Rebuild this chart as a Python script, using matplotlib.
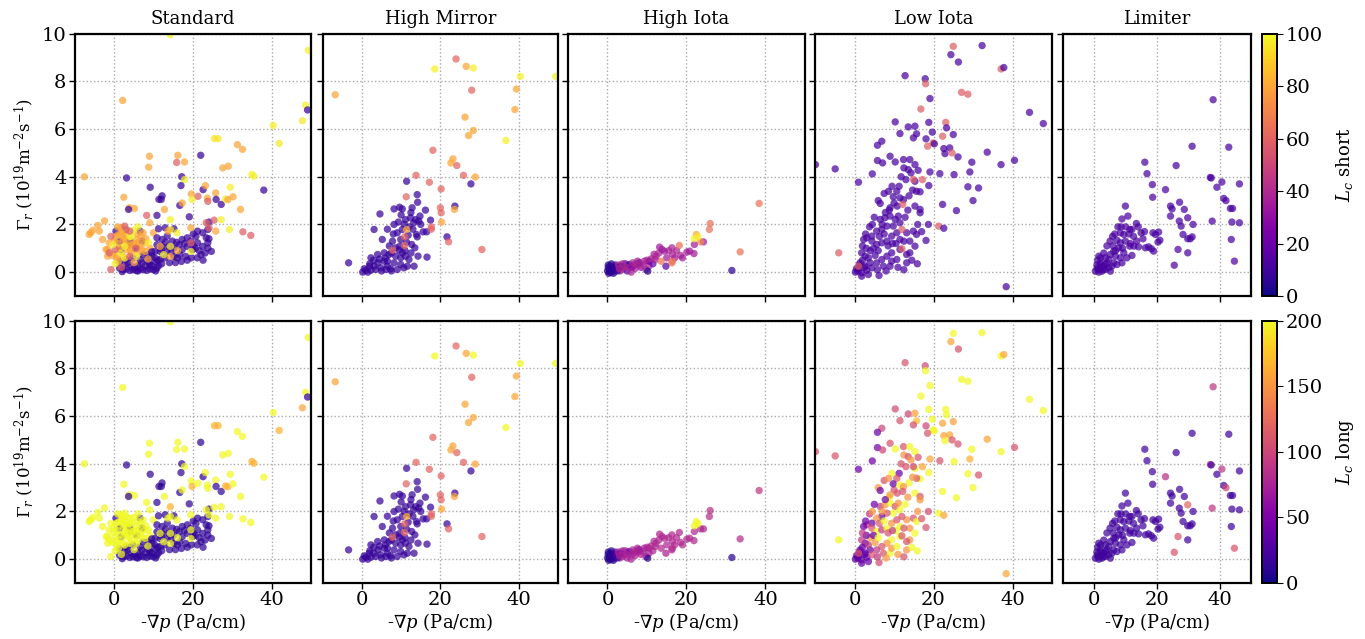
import matplotlib
matplotlib.use("Agg")
import matplotlib.pyplot as plt
import numpy as np

plt.rcParams['font.family'] = 'serif'
plt.rcParams['font.serif'] = ['DejaVu Serif']
plt.rcParams['mathtext.fontset'] = 'dejavuserif'

titles = ['Standard', 'High Mirror', 'High Iota', 'Low Iota', 'Limiter']
cbar_labels = [r'$L_c$ short', r'$L_c$ long']
cbar_max = [100, 200]
cbar_ticks = [[0, 20, 40, 60, 80, 100], [0, 50, 100, 150, 200]]
y_ticks = [0, 2, 4, 6, 8, 10]
x_ticks = [0, 20, 40]

# rows: (-grad p, Gamma_r, Lc short, Lc long)
standard = [
    # bottom purple band
    (1.3, 0.17, 8, 12), (2.2, 0.10, 8, 12), (3.0, 0.13, 8, 12), (3.9, 0.07, 8, 12),
    (4.7, 0.10, 8, 12), (5.6, 0.06, 8, 12), (6.5, 0.13, 8, 12), (7.3, 0.10, 8, 12),
    (8.2, 0.07, 8, 12), (9.0, 0.13, 8, 12), (9.9, 0.10, 8, 12), (10.8, 0.17, 8, 12),
    (2.6, 0.31, 8, 12), (4.3, 0.27, 8, 12), (6.0, 0.27, 8, 12), (7.8, 0.27, 8, 12),
    (9.5, 0.27, 8, 12), (11.2, 0.27, 8, 12), (12.0, 0.35, 8, 12), (3.5, 0.40, 8, 12),
    (5.2, 0.20, 8, 12), (7.0, 0.38, 8, 12), (8.8, 0.40, 8, 12), (10.5, 0.42, 8, 12),
    (11.8, 0.55, 8, 12), (1.7, 0.94, 8, 12), (3.9, 1.15, 8, 12), (5.6, 1.01, 8, 12),
    (7.3, 0.73, 8, 12), (8.6, 0.73, 8, 12), (3.0, 0.52, 8, 12), (4.7, 0.59, 8, 12),
    (6.5, 0.52, 8, 12), (8.2, 0.52, 8, 12), (9.5, 0.66, 8, 12), (10.3, 0.59, 8, 12),
    (1.3, 0.45, 8, 12), (4.0, 1.30, 8, 12), (7.0, 1.30, 8, 12), (0.4, 1.72, 8, 12),
    (1.3, 1.30, 8, 12), (6.5, 1.72, 8, 12), (9.0, 0.30, 8, 12), (10.5, 0.05, 8, 12),
    (6.0, 0.05, 8, 12), (2.0, 0.02, 8, 12),
    # main mixed cluster
    (0.4, 1.50, 80, 200), (2.2, 1.37, 80, 200), (3.0, 1.58, 80, 200), (4.7, 1.15, 80, 200),
    (1.3, 1.01, 80, 200), (3.0, 0.94, 80, 200), (5.6, 1.37, 80, 200), (6.5, 1.08, 80, 200),
    (7.8, 1.23, 80, 200), (4.3, 0.80, 80, 200), (2.2, 0.66, 80, 200), (0.4, 0.73, 80, 200),
    (6.0, 0.80, 80, 200), (7.8, 0.87, 80, 200), (9.0, 1.01, 80, 200), (3.4, 1.30, 80, 200),
    (1.7, 1.86, 80, 200), (-1.7, 0.94, 80, 200), (1.0, 0.45, 80, 200), (5.0, 0.40, 80, 200),
    (2.8, 1.15, 80, 200), (6.8, 1.50, 80, 200), (0.9, 1.20, 80, 200), (8.5, 0.55, 80, 200),
    (0.8, 1.90, 80, 200), (2.0, 1.70, 80, 200), (4.0, 0.95, 80, 200), (5.0, 1.20, 80, 200),
    (6.2, 1.25, 80, 200), (7.0, 0.95, 80, 200), (1.0, 1.55, 80, 200), (2.5, 1.45, 80, 200),
    (3.5, 1.10, 80, 200), (0.0, 1.30, 80, 200), (-0.5, 0.70, 80, 200), (0.6, 0.60, 80, 200),
    (8.0, 1.40, 80, 200), (5.8, 1.60, 80, 200),
    (2.6, 1.08, 98, 200), (3.9, 1.50, 98, 200), (5.6, 0.66, 98, 200), (2.6, 0.59, 98, 200),
    (8.6, 1.23, 98, 200), (0.2, 0.35, 98, 200), (6.0, 1.90, 98, 200), (1.5, 0.80, 98, 200),
    (4.9, 1.75, 98, 200), (4.3, 1.50, 98, 200),
    (3.9, 0.66, 58, 200), (3.0, 1.79, 58, 200), (0.2, 0.95, 58, 200), (5.4, 1.00, 58, 200),
    (1.8, 0.20, 58, 200), (2.6, 1.93, 58, 200), (3.9, 1.72, 58, 200),
    (1.7, 1.65, 80, 200), (7.3, 1.65, 80, 200), (9.9, 1.65, 80, 200),
    # left side
    (-6.4, 1.58, 80, 200), (-6.0, 1.65, 80, 200), (-5.5, 1.75, 80, 200), (-4.2, 1.96, 80, 200),
    (-2.5, 2.15, 80, 200), (-3.8, 1.72, 80, 200), (-3.0, 1.37, 80, 200), (-2.1, 0.95, 80, 200),
    (-1.7, 0.67, 80, 200), (-1.3, 0.81, 58, 200), (-0.9, 0.11, 58, 200), (-0.9, 1.50, 58, 200),
    (-1.3, 1.23, 80, 200), (-0.4, 1.15, 98, 200),
    # right purple cluster
    (10.8, 1.44, 8, 12), (12.1, 1.37, 8, 12), (13.4, 1.51, 8, 12), (14.7, 1.30, 8, 12),
    (10.8, 1.15, 8, 12), (12.1, 1.08, 8, 12), (13.8, 1.08, 8, 12), (15.1, 1.01, 8, 12),
    (16.4, 1.15, 8, 12), (17.2, 0.94, 8, 12), (18.5, 1.08, 8, 12), (19.8, 0.94, 8, 12),
    (21.1, 1.23, 8, 12), (22.4, 1.08, 8, 12), (23.7, 1.01, 8, 12), (24.6, 0.87, 8, 12),
    (13.4, 0.87, 8, 12), (11.6, 0.87, 8, 12), (10.3, 0.87, 8, 12), (17.2, 1.37, 8, 12),
    (18.5, 1.44, 8, 12), (19.4, 1.30, 8, 12), (18.1, 0.66, 8, 12), (16.6, 0.73, 8, 12),
    (15.1, 0.66, 8, 12), (22.0, 0.73, 8, 12), (17.0, 0.45, 8, 12), (20.5, 1.00, 8, 12),
    (21.5, 0.90, 8, 12), (11.2, 1.82, 8, 12), (12.9, 1.86, 8, 12), (15.1, 1.82, 8, 12),
    (21.1, 1.72, 8, 12), (20.7, 1.50, 8, 12), (22.4, 1.65, 8, 12), (23.3, 1.44, 8, 12),
    (23.7, 1.23, 8, 12), (23.7, 1.79, 8, 12), (24.0, 2.10, 8, 12),
    (11.0, 0.50, 8, 12), (12.8, 0.60, 8, 12), (14.0, 0.40, 8, 12), (15.5, 0.40, 8, 12),
    (16.0, 0.60, 8, 12), (18.5, 0.50, 8, 12), (19.5, 0.60, 8, 12), (21.0, 0.60, 8, 12),
    (22.5, 0.50, 8, 12), (23.0, 0.80, 8, 12), (13.0, 1.25, 8, 12), (15.8, 1.25, 8, 12),
    (17.8, 1.20, 8, 12), (20.0, 1.10, 8, 12), (12.0, 0.95, 8, 12), (14.5, 0.85, 8, 12),
    (9.5, 0.85, 8, 12), (24.0, 1.40, 8, 12), (20.0, 1.60, 8, 12),
    (14.2, 1.08, 98, 200), (12.5, 0.73, 98, 200), (14.2, 0.66, 80, 200), (11.6, 1.08, 80, 200),
    (19.4, 0.87, 98, 200), (19.4, 1.23, 58, 200), (16.0, 0.90, 80, 200), (14.2, 1.79, 98, 200),
    (15.9, 1.65, 98, 200), (13.6, 1.72, 80, 200), (19.4, 1.86, 80, 200),
    # upper scatter
    (8.2, 2.38, 58, 200), (10.8, 2.38, 8, 12), (16.6, 2.80, 8, 12), (19.0, 2.32, 8, 12),
    (12.7, 2.63, 80, 200), (14.2, 2.20, 98, 165), (9.0, 2.07, 80, 200),
    (-7.6, 4.00, 80, 200), (2.1, 7.20, 80, 200), (14.2, 9.96, 98, 200), (49.2, 9.30, 98, 200),
    (48.5, 7.00, 98, 200), (49.0, 6.80, 8, 12), (47.7, 6.35, 96, 160), (40.3, 6.15, 98, 200),
    (41.8, 5.40, 96, 165), (25.4, 5.60, 95, 165), (26.3, 5.60, 95, 165), (31.2, 5.35, 80, 200),
    (32.5, 5.15, 80, 200), (8.9, 4.86, 80, 200), (8.7, 4.40, 80, 200), (16.1, 4.90, 80, 200),
    (15.8, 4.60, 58, 200), (17.8, 4.62, 80, 200), (21.9, 4.90, 8, 12), (3.1, 3.95, 8, 12),
    (17.1, 4.00, 8, 12), (17.8, 3.88, 98, 200), (9.1, 3.56, 8, 12), (2.4, 3.14, 80, 200),
    (12.1, 3.20, 8, 12), (11.9, 3.05, 8, 12), (11.3, 3.05, 8, 12), (3.8, 2.70, 80, 200),
    (5.1, 2.67, 80, 200), (3.6, 2.63, 8, 12), (16.9, 3.63, 8, 12), (17.2, 2.90, 80, 200),
    (19.5, 3.28, 80, 200), (19.7, 3.05, 98, 165), (21.2, 3.18, 58, 200), (22.5, 3.46, 8, 12),
    (23.1, 3.63, 80, 200), (23.6, 3.10, 80, 200), (23.7, 2.97, 58, 200), (25.7, 3.32, 80, 200),
    (25.8, 3.05, 8, 12), (27.1, 2.84, 8, 12), (27.5, 4.37, 80, 200), (28.9, 4.44, 80, 200),
    (29.4, 3.56, 98, 200), (28.2, 3.07, 98, 165), (28.8, 3.04, 80, 165), (30.1, 3.16, 80, 200),
    (34.9, 4.10, 98, 165), (35.4, 4.02, 98, 165), (37.9, 3.44, 8, 200), (32.0, 2.63, 80, 200),
    (25.7, 1.72, 80, 200), (29.2, 1.79, 98, 200), (23.3, 2.07, 58, 200), (24.0, 1.86, 58, 200),
    (25.3, 2.18, 58, 200), (32.6, 1.69, 58, 200), (34.6, 1.54, 58, 200), (27.1, 2.20, 98, 200),
]

high_mirror = [
    (8.2, 2.65, 8, 15), (9.6, 2.72, 8, 15), (10.3, 2.65, 8, 15), (12.8, 2.70, 8, 15),
    (14.2, 2.93, 8, 15), (16.2, 2.60, 8, 15), (8.2, 2.00, 8, 15), (9.3, 2.10, 8, 15),
    (11.1, 2.20, 8, 15), (12.4, 2.28, 8, 15), (13.7, 2.20, 8, 15), (14.8, 2.35, 8, 15),
    (14.5, 2.14, 8, 15), (13.2, 2.07, 8, 15), (12.0, 1.90, 8, 15), (9.0, 1.65, 8, 15),
    (10.3, 1.79, 8, 15), (9.9, 1.37, 8, 15), (13.9, 1.58, 8, 15), (14.1, 1.48, 8, 15),
    (15.6, 1.69, 8, 15), (16.5, 1.69, 8, 15), (7.8, 1.30, 8, 15), (9.7, 1.09, 8, 15),
    (11.4, 1.26, 8, 15), (12.7, 1.16, 8, 15), (13.5, 1.02, 8, 15), (16.6, 0.63, 8, 15),
    (14.3, 0.67, 8, 15), (2.3, 0.60, 8, 15), (4.0, 0.74, 8, 15), (5.7, 0.81, 8, 15),
    (6.9, 0.74, 8, 15), (8.6, 0.67, 8, 15), (9.9, 0.60, 8, 15), (11.1, 0.67, 8, 15),
    (12.0, 0.53, 8, 15), (13.3, 0.25, 8, 15), (11.6, 0.25, 8, 15), (9.9, 0.32, 8, 15),
    (8.2, 0.39, 8, 15), (6.5, 0.25, 8, 15), (5.7, 0.46, 8, 15), (4.8, 0.18, 8, 15),
    (3.5, 0.11, 8, 15), (2.3, 0.08, 8, 15), (1.0, 0.08, 8, 15), (0.6, 0.14, 8, 15),
    (1.9, 0.25, 8, 15), (3.1, 0.25, 8, 15), (4.1, 0.39, 8, 15), (6.1, 0.11, 8, 15),
    (7.3, 0.14, 8, 15), (9.0, 0.11, 8, 15), (10.7, 0.18, 8, 15), (8.6, 1.02, 8, 15),
    (9.5, 0.92, 8, 15), (10.3, 0.81, 8, 15), (6.5, 0.46, 8, 15), (7.5, 0.05, 8, 15),
    (5.0, 0.05, 8, 15), (1.5, 0.00, 8, 15), (10.0, 2.40, 8, 15), (11.8, 1.55, 8, 15),
    (3.0, 0.50, 8, 15), (4.5, 0.55, 8, 15), (6.0, 0.60, 8, 15), (7.5, 0.80, 8, 15),
    (8.0, 1.60, 8, 15), (10.8, 2.00, 8, 15), (12.5, 2.50, 8, 15), (13.0, 1.80, 8, 15),
    (15.0, 2.00, 8, 15), (11.0, 0.90, 8, 15), (12.5, 0.80, 8, 15), (7.0, 1.10, 8, 15),
    (6.5, 1.80, 8, 15), (2.0, 0.35, 8, 15), (0.2, 0.00, 8, 15),
    (-6.8, 7.44, 80, 160), (24.0, 8.94, 60, 120), (18.6, 8.52, 98, 200), (26.6, 8.63, 80, 160),
    (28.4, 8.56, 98, 200), (40.4, 8.21, 98, 200), (49.4, 8.21, 98, 200), (28.0, 7.63, 60, 120),
    (39.4, 7.68, 80, 160), (39.0, 6.82, 80, 160), (26.3, 6.50, 80, 160), (28.4, 5.94, 80, 160),
    (27.2, 5.73, 80, 160), (36.7, 5.52, 98, 200), (18.1, 5.11, 60, 120), (23.2, 4.75, 80, 160),
    (22.7, 4.58, 80, 160), (24.2, 4.47, 60, 120), (25.9, 4.06, 60, 120), (28.9, 3.99, 80, 160),
    (13.8, 4.06, 60, 120), (27.8, 3.70, 8, 15), (11.4, 3.81, 8, 15), (17.2, 3.77, 60, 120),
    (20.2, 3.49, 60, 120), (14.1, 3.25, 8, 15), (11.3, 3.16, 60, 120), (4.6, 2.44, 8, 15),
    (20.0, 2.70, 60, 120), (20.2, 2.49, 60, 120), (23.7, 2.77, 8, 15), (23.6, 2.63, 80, 160),
    (20.3, 2.10, 80, 160), (11.4, 1.79, 80, 160), (17.5, 2.18, 8, 15), (17.7, 1.90, 60, 120),
    (17.7, 1.80, 60, 120), (21.7, 1.48, 8, 15), (22.1, 1.27, 60, 120), (30.6, 0.95, 60, 120),
    (-3.4, 0.39, 8, 15), (3.1, 1.79, 8, 15), (5.2, 1.37, 8, 15), (7.8, 0.92, 60, 120),
    (10.9, 1.12, 60, 120), (10.9, 1.48, 60, 120),
]

high_iota = [
    (1.5, 0.20, 5, 10), (0.5, 0.10, 5, 10), (1.0, 0.00, 5, 10), (0.2, 0.20, 5, 10),
    (0.8, 0.25, 5, 10), (1.8, 0.05, 5, 10), (0.3, -0.05, 5, 10), (2.0, 0.30, 10, 40),
    (2.5, 0.15, 15, 60), (0.0, 0.05, 5, 10), (1.2, 0.12, 5, 10), (0.6, 0.00, 5, 10),
    (1.5, -0.05, 5, 10), (2.2, 0.20, 8, 30), (1.0, 0.35, 5, 10), (0.2, 0.30, 5, 10),
    (3.8, 0.12, 38, 75), (5.0, 0.05, 15, 70), (6.0, 0.00, 38, 75), (2.8, 0.30, 38, 75),
    (3.2, 0.05, 38, 75), (4.0, 0.20, 38, 75), (4.5, 0.35, 15, 70), (5.5, 0.25, 38, 75),
    (6.8, 0.30, 15, 70), (7.0, 0.15, 38, 75), (8.0, 0.35, 38, 75), (8.5, 0.20, 30, 75),
    (9.8, 0.10, 38, 75), (10.5, 0.25, 38, 75), (11.5, 0.35, 20, 75), (10.2, 0.04, 5, 10),
    (8.0, 0.40, 8, 40), (5.5, 0.32, 8, 40), (2.5, 0.05, 8, 20), (3.4, 0.25, 8, 30),
    (3.0, 0.15, 38, 75), (3.8, 0.35, 38, 75), (4.8, 0.20, 38, 75), (6.2, 0.20, 30, 75),
    (7.5, 0.30, 38, 75), (9.0, 0.30, 38, 75), (10.0, 0.50, 38, 75), (11.8, 0.75, 38, 80),
    (13.0, 0.80, 38, 80), (15.5, 0.90, 38, 80), (17.0, 0.60, 35, 80), (18.5, 0.70, 38, 80),
    (10.6, 0.46, 20, 75), (9.3, 0.46, 38, 75), (7.6, 0.46, 38, 75), (6.4, 0.39, 38, 75),
    (12.3, 0.67, 38, 80), (12.1, 0.53, 38, 80), (11.0, 0.55, 38, 80), (15.0, 0.60, 35, 80),
    (14.8, 0.25, 15, 75), (13.6, 0.46, 65, 80), (16.3, 0.39, 65, 80), (16.4, 0.46, 65, 80),
    (13.8, 0.95, 35, 80), (14.4, 0.88, 35, 80), (13.2, 1.05, 35, 80), (16.3, 1.02, 38, 80),
    (16.5, 0.74, 38, 80), (17.5, 0.90, 38, 80), (19.0, 0.60, 35, 80), (18.2, 1.12, 65, 80),
    (20.1, 0.84, 35, 80), (20.8, 0.88, 35, 80), (21.9, 0.78, 35, 80), (22.0, 1.16, 35, 80),
    (24.3, 1.27, 35, 80), (23.6, 1.27, 70, 80), (22.5, 1.58, 80, 200), (22.9, 1.48, 98, 200),
    (22.0, 1.40, 98, 200), (26.0, 2.04, 65, 85), (25.8, 1.79, 65, 85), (33.6, 0.85, 65, 85),
    (31.5, 0.07, 5, 10), (38.4, 2.88, 65, 90),
]

low_iota = [
    (6.5, 2.21, 12, 90), (7.7, 2.28, 12, 150), (9.0, 2.35, 12, 200), (10.3, 2.21, 12, 110),
    (11.1, 2.35, 12, 150), (11.5, 2.07, 12, 200), (9.8, 1.93, 12, 200), (8.2, 1.93, 12, 110),
    (6.9, 1.79, 12, 40), (5.6, 1.72, 12, 150), (4.4, 1.51, 12, 40), (3.1, 1.44, 12, 90),
    (2.3, 1.37, 12, 40), (4.4, 1.30, 12, 110), (5.6, 1.16, 12, 200), (6.9, 1.23, 12, 90),
    (8.2, 1.30, 12, 200), (9.4, 1.51, 12, 150), (10.7, 1.65, 12, 110), (11.5, 1.37, 12, 200),
    (13.2, 1.65, 12, 150), (14.9, 1.72, 12, 110), (15.7, 1.58, 12, 200), (14.0, 1.30, 12, 150),
    (15.3, 1.09, 12, 200), (14.0, 0.81, 12, 150), (13.2, 0.74, 12, 110), (11.5, 0.95, 12, 200),
    (9.4, 0.81, 12, 200), (8.2, 0.67, 12, 150), (6.9, 0.53, 12, 110), (5.6, 0.39, 12, 90),
    (3.9, 0.39, 12, 40), (2.7, 0.67, 12, 40), (1.8, 0.81, 12, 90), (1.4, 0.39, 12, 40),
    (1.0, 0.11, 12, 35), (0.2, 0.00, 12, 35), (0.8, 0.04, 12, 35), (1.8, -0.03, 12, 35),
    (3.1, 0.08, 12, 40), (4.4, 0.18, 12, 110), (2.7, 0.25, 12, 40), (1.8, -0.17, 12, 40),
    (9.0, 0.25, 12, 200), (9.4, 0.46, 12, 150), (10.7, 0.53, 12, 200), (13.2, 0.39, 12, 150),
    (7.3, 0.25, 12, 110),
    (0.5, 0.15, 12, 35), (1.2, 0.30, 12, 40), (2.0, 0.50, 12, 40), (2.5, 0.20, 12, 35),
    (3.5, 0.60, 12, 90), (4.0, 0.90, 12, 150), (3.0, 1.00, 12, 40), (2.0, 1.10, 12, 90),
    (4.8, 1.00, 12, 40), (5.2, 0.70, 12, 150), (6.0, 0.90, 12, 200), (6.3, 1.50, 12, 110),
    (7.5, 1.60, 12, 200), (7.0, 2.00, 12, 150), (8.5, 1.10, 12, 110), (8.8, 2.60, 12, 200),
    (10.0, 2.90, 12, 110), (10.5, 1.20, 12, 200), (12.5, 1.30, 12, 110), (12.8, 2.30, 12, 200),
    (13.5, 2.60, 12, 150), (7.8, 2.50, 12, 40), (5.0, 2.30, 12, 40), (3.8, 1.90, 12, 90),
    (4.5, 2.00, 12, 150), (2.8, 1.60, 12, 40), (6.0, 3.00, 12, 150), (7.5, 3.30, 12, 110),
    (9.5, 3.60, 12, 200), (11.8, 4.00, 12, 110), (13.8, 3.20, 12, 200), (16.0, 2.00, 12, 150),
    (17.0, 1.70, 12, 110), (14.5, 0.50, 12, 200), (11.0, 0.20, 12, 150), (12.5, 0.10, 12, 110),
    (8.0, 0.05, 12, 150), (5.8, 0.10, 12, 90), (3.5, -0.10, 12, 40), (9.6, 1.20, 12, 90),
    (9.0, 4.86, 12, 110), (10.3, 4.62, 12, 200), (12.4, 4.72, 12, 110), (14.0, 4.72, 12, 200),
    (12.5, 4.37, 12, 150), (13.6, 4.30, 12, 110), (15.3, 4.51, 12, 200), (16.1, 4.27, 12, 110),
    (14.3, 4.16, 12, 150), (13.0, 3.88, 12, 110), (15.3, 3.81, 12, 200), (16.6, 3.37, 12, 200),
    (15.7, 3.39, 12, 110), (14.7, 3.44, 12, 150), (11.3, 3.60, 12, 40), (8.6, 3.39, 12, 150),
    (10.7, 3.39, 12, 110), (9.8, 3.16, 12, 40), (11.5, 3.11, 12, 200), (12.4, 3.04, 12, 150),
    (6.5, 2.88, 12, 40), (9.0, 2.70, 12, 150), (10.8, 2.77, 12, 110), (15.3, 2.77, 12, 200),
    (16.6, 2.63, 12, 110), (16.6, 2.49, 12, 150),
    (25.0, 9.47, 58, 200), (32.3, 9.50, 12, 200), (24.4, 9.12, 12, 160), (26.3, 8.81, 12, 110),
    (37.1, 8.52, 58, 200), (37.8, 8.58, 12, 160), (12.8, 8.24, 12, 110), (17.9, 8.11, 12, 105),
    (18.0, 7.90, 58, 200), (27.1, 7.54, 58, 200), (28.7, 7.46, 58, 200), (19.1, 7.28, 12, 200),
    (16.8, 6.84, 58, 200), (44.3, 6.70, 12, 200), (47.8, 6.23, 12, 200), (10.3, 6.30, 12, 105),
    (18.8, 6.28, 12, 200), (23.1, 6.28, 58, 200), (23.3, 6.05, 12, 200), (13.6, 6.09, 12, 100),
    (15.3, 6.12, 12, 155), (11.5, 5.81, 12, 110), (15.7, 5.80, 12, 170), (19.7, 5.87, 12, 200),
    (25.0, 5.77, 12, 155), (22.3, 5.70, 58, 160), (19.9, 5.42, 58, 200), (20.2, 5.38, 12, 200),
    (18.5, 5.28, 58, 110), (6.9, 5.49, 12, 100), (5.8, 5.32, 12, 40), (18.1, 5.59, 12, 100),
    (14.9, 5.63, 12, 105), (22.6, 5.18, 12, 160), (24.1, 5.21, 12, 160), (22.9, 4.97, 12, 200),
    (24.7, 5.00, 58, 110), (26.2, 4.83, 12, 110), (33.6, 5.03, 12, 160), (37.1, 4.51, 12, 200),
    (40.5, 4.69, 12, 110), (29.7, 4.61, 12, 200), (29.2, 4.20, 12, 165), (31.4, 3.53, 12, 110),
    (28.7, 3.58, 12, 200), (30.0, 3.00, 12, 200), (25.2, 4.09, 12, 200), (21.6, 4.13, 12, 110),
    (19.1, 4.20, 12, 160), (18.8, 3.63, 12, 200), (22.3, 2.84, 12, 200), (25.8, 2.58, 12, 200),
    (21.3, 1.93, 58, 200), (22.6, 1.84, 12, 160), (1.0, 3.77, 12, 40), (-4.9, 4.33, 12, 110),
    (-9.9, 4.51, 12, 110), (-4.0, 0.81, 58, 200), (4.5, 4.12, 12, 45), (5.8, 4.68, 12, 45),
    (7.1, 4.58, 12, 100), (14.9, 3.88, 58, 100), (17.2, 3.88, 58, 160), (12.2, 2.84, 58, 110),
    (12.0, 1.79, 58, 110), (12.0, 0.98, 58, 110), (38.4, -0.61, 12, 160), (6.2, -0.14, 12, 105),
    (1.0, 0.25, 58, 110), (15.9, 0.35, 12, 200), (18.1, 1.33, 12, 110), (18.7, 2.00, 12, 105),
]

limiter = [
    (9.9, 2.77, 12, 20), (10.7, 2.35, 12, 20), (8.8, 2.23, 12, 20), (11.3, 1.79, 12, 20),
    (12.0, 1.79, 12, 20), (13.4, 2.04, 12, 20), (14.9, 1.65, 12, 20), (8.3, 1.65, 12, 20),
    (9.4, 1.58, 12, 20), (7.2, 1.34, 12, 20), (8.3, 1.23, 12, 20), (9.9, 1.30, 12, 20),
    (11.3, 1.09, 12, 20), (12.6, 1.09, 12, 20), (14.1, 1.06, 12, 20), (16.3, 1.02, 12, 20),
    (17.3, 1.06, 12, 20), (18.7, 1.65, 12, 20), (19.5, 1.58, 12, 20), (20.3, 1.26, 12, 20),
    (20.9, 1.34, 12, 20), (18.2, 0.98, 12, 20), (18.9, 0.88, 12, 20), (20.5, 1.68, 12, 20),
    (7.8, 1.02, 12, 20), (6.2, 0.88, 12, 20), (5.1, 0.74, 12, 20), (6.7, 0.67, 12, 20),
    (8.3, 0.60, 12, 20), (4.6, 0.53, 12, 20), (6.2, 0.39, 12, 20), (3.5, 0.32, 12, 20),
    (1.9, 0.39, 12, 20), (1.4, 0.67, 12, 20), (0.9, 0.18, 12, 20), (0.3, 0.04, 12, 20),
    (1.4, 0.00, 12, 20), (2.4, 0.04, 12, 20), (3.5, 0.11, 12, 20), (4.6, 0.18, 12, 20),
    (5.6, 0.25, 12, 20), (7.2, 0.32, 12, 20), (5.1, 0.04, 12, 20), (1.9, 0.18, 12, 20),
    (3.0, 0.25, 12, 20), (4.0, 0.39, 12, 20), (8.8, 0.39, 12, 20), (10.4, 0.60, 12, 20),
    (9.4, 0.81, 12, 20), (2.8, 0.10, 12, 20), (0.8, 0.30, 12, 20),
    (1.0, 0.50, 12, 20), (2.0, 0.60, 12, 20), (3.0, 0.80, 12, 20), (4.0, 1.10, 12, 20),
    (5.0, 1.30, 14, 20), (6.0, 1.10, 12, 20), (6.5, 1.60, 14, 20), (7.5, 1.90, 12, 20),
    (8.5, 1.90, 12, 20), (10.0, 1.90, 14, 20), (11.0, 1.60, 12, 20), (12.5, 1.50, 12, 20),
    (13.5, 1.30, 14, 20), (15.5, 1.40, 12, 20), (16.0, 1.70, 12, 20), (12.0, 0.70, 12, 20),
    (3.5, 0.60, 12, 20), (2.2, 0.30, 12, 20), (1.2, 0.10, 12, 20), (6.8, 0.90, 12, 20),
    (9.0, 1.00, 12, 20), (11.5, 1.20, 14, 20), (14.0, 1.90, 12, 20), (5.8, 1.50, 12, 20),
    (37.9, 7.23, 14, 90), (31.2, 5.28, 12, 20), (42.9, 5.24, 12, 20), (16.1, 4.61, 12, 20),
    (26.1, 4.47, 12, 20), (16.8, 4.13, 12, 20), (37.0, 3.97, 14, 90), (37.3, 3.95, 12, 20),
    (40.7, 3.78, 14, 90), (46.3, 3.70, 12, 20), (39.1, 3.56, 12, 20), (18.5, 3.67, 12, 20),
    (18.6, 3.14, 12, 20), (22.7, 3.46, 14, 85), (41.3, 3.09, 12, 20), (42.0, 3.00, 14, 100),
    (43.4, 2.67, 12, 20), (44.1, 2.67, 12, 20), (24.3, 2.77, 12, 20), (24.8, 2.65, 12, 20),
    (27.2, 2.93, 12, 20), (28.7, 2.63, 12, 20), (29.8, 2.28, 14, 120), (31.5, 2.00, 12, 20),
    (37.6, 2.14, 14, 90), (43.9, 2.10, 12, 20), (46.3, 2.07, 12, 20), (24.3, 2.35, 12, 20),
    (27.1, 2.14, 12, 20), (27.7, 1.93, 12, 20), (28.3, 1.58, 12, 20), (29.8, 1.40, 12, 20),
    (30.6, 1.40, 12, 20), (31.2, 1.48, 12, 20), (26.7, 0.95, 14, 110), (29.8, 0.81, 12, 20),
    (25.5, 0.29, 14, 110), (43.7, 1.37, 12, 20), (44.7, 0.46, 14, 110),
]

panels = [standard, high_mirror, high_iota, low_iota, limiter]

fig = plt.figure(figsize=(13.65, 6.39), dpi=100)

lefts = [0.0549, 0.2364, 0.4161, 0.5971, 0.7788]
widths = [0.1733, 0.1724, 0.1736, 0.1736, 0.1377]
bottoms = [0.5368, 0.0876]
height = 0.4105

for r in range(2):
    sc = None
    for c in range(5):
        ax = fig.add_axes([lefts[c], bottoms[r], widths[c], height])
        d = np.array(panels[c])
        sc = ax.scatter(d[:, 0], d[:, 1], c=d[:, 2 + r], cmap='plasma',
                        vmin=0, vmax=cbar_max[r], s=28, alpha=0.72,
                        linewidths=0)
        ax.set_xlim(-10, 50)
        ax.set_ylim(-1, 10)
        ax.set_xticks(x_ticks)
        ax.set_yticks(y_ticks)
        ax.set_axisbelow(True)
        ax.grid(True, linestyle=':', color='#aaaaaa', linewidth=1.0)
        for sp in ax.spines.values():
            sp.set_linewidth(1.6)
        ax.tick_params(labelsize=14, length=4, width=1, pad=2)
        if r == 0:
            ax.set_title(titles[c], fontsize=13, pad=7)
            ax.tick_params(labelbottom=False)
        else:
            ax.set_xlabel(r'-$\nabla p$ (Pa/cm)', fontsize=13, labelpad=1)
        if c == 0:
            ax.set_ylabel(r'$\Gamma_r$ ($10^{19}\mathrm{m}^{-2}\mathrm{s}^{-1}$)',
                          fontsize=12, labelpad=4)
        else:
            ax.tick_params(labelleft=False)
    cax = fig.add_axes([0.9245, bottoms[r], 0.011, height])
    cb = fig.colorbar(sc, cax=cax, ticks=cbar_ticks[r])
    cb.solids.set_alpha(1)
    cb.outline.set_linewidth(1.4)
    cb.ax.tick_params(labelsize=14, length=4, pad=2)
    cb.set_label(cbar_labels[r], fontsize=13, labelpad=8)

fig.savefig("out.png", dpi=100)
